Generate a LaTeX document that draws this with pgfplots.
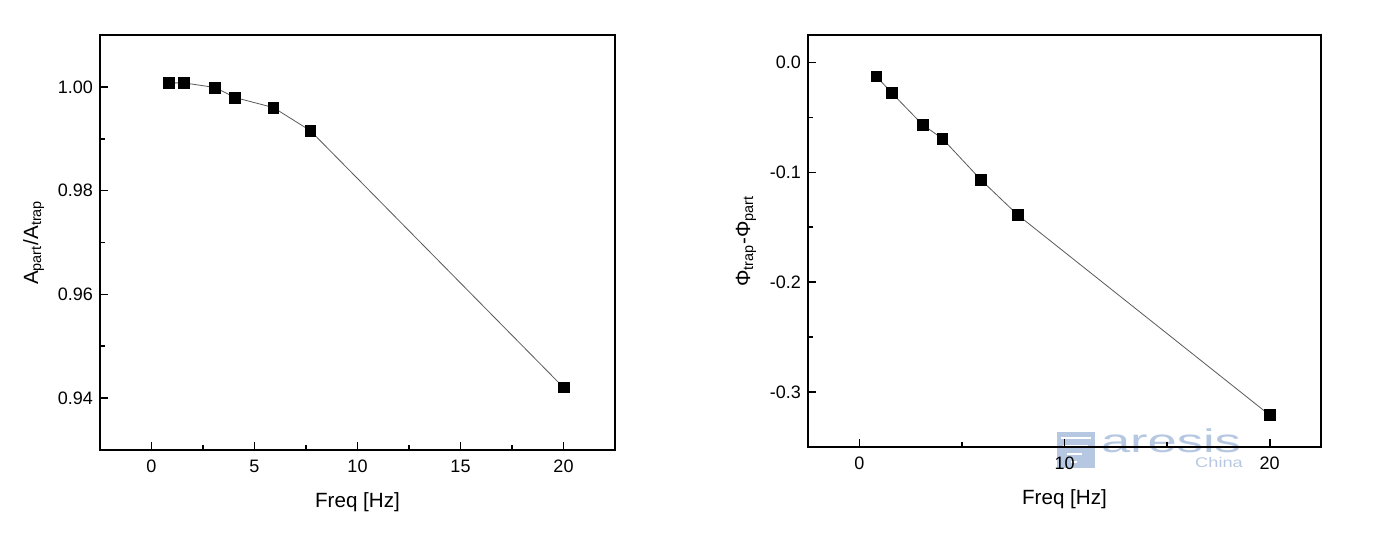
\documentclass[border=0pt]{standalone}
\usepackage{fontspec}
\setmainfont{Liberation Sans}
\usepackage{graphicx}
\usepackage{pgfplots}
\pgfplotsset{compat=1.18}
\definecolor{wm}{RGB}{182,200,225}
\begin{document}
\begin{tikzpicture}
% watermark (behind the axes)
\fill[wm] (528.5pt,36.5pt) rectangle (547.5pt,54.5pt);
\draw[white, line width=1.2pt] (530.5pt,51.5pt) -- (545.5pt,51.5pt);
\draw[white, line width=1.2pt] (531.5pt,47.5pt) -- (544pt,47.5pt);
\draw[white, line width=1.2pt] (533.5pt,43.5pt) -- (541pt,43.5pt);
\draw[white, line width=1.2pt] (535.5pt,39.5pt) -- (538.5pt,39.5pt);
\node[text=wm, font=\fontsize{16.4}{17}\selectfont, inner sep=0, anchor=base] at (585.5pt,44.5pt) {\scalebox{1.6}[1]{aresis}};
\node[text=wm, font=\fontsize{7}{8}\selectfont, inner sep=0, anchor=base] at (609.5pt,37pt) {\scalebox{1.3}[1]{China}};
\pgfplotsset{
  myax/.style={
    scale only axis,
    xmin=-2.5, xmax=22.5,
    tick align=inside,
    xtick pos=left, ytick pos=left,
    major tick length=4pt, minor tick length=2.5pt,
    every tick/.style={black, line width=0.8pt},
    axis line style={line width=1pt},
    tick label style={font=\fontsize{9}{10}\selectfont},
    xticklabel style={yshift=-1.5pt},
    /pgf/number format/assume math mode=true,
    xlabel={Freq [Hz]},
    label style={font=\fontsize{10.3}{12}\selectfont},
    xlabel style={yshift=-3pt},
    minor x tick num=1, minor y tick num=1,
    clip=false,
  },
  myplot/.style={gray!70!black, line width=0.4pt, mark=square*, mark size=2.7pt, mark options={black, fill=black, solid}},
}
\begin{axis}[myax, at={(50pt,45.5pt)}, anchor=south west, width=257.5pt, height=207.5pt,
  ymin=0.93, ymax=1.01,
  xtick={0,5,10,15,20},
  ytick={0.94,0.96,0.98,1.00},
  yticklabel style={/pgf/number format/.cd, fixed, fixed zerofill, precision=2},
  ylabel={A\textsubscript{part}/A\textsubscript{trap}},
]
\addplot[myplot] coordinates {(0.83,1.00077) (1.58,1.00077) (3.08,0.99988) (4.05,0.99795) (5.92,0.99601) (7.71,0.99156) (20,0.94205)};
\end{axis}
\begin{axis}[myax, at={(404pt,47pt)}, anchor=south west, width=256.5pt, height=206pt,
  ymin=-0.35, ymax=0.025,
  xtick={0,10,20},
  ytick={0,-0.1,-0.2,-0.3},
  yticklabel style={/pgf/number format/.cd, fixed, fixed zerofill, precision=1},
  ylabel={Φ\textsubscript{trap}-Φ\textsubscript{part}},
]
\addplot[myplot] coordinates {(0.83,-0.0127) (1.58,-0.0277) (3.08,-0.0566) (4.05,-0.0693) (5.92,-0.1067) (7.71,-0.1386) (20,-0.321)};
\end{axis}
\pgfresetboundingbox
\useasboundingbox (0pt,0pt) rectangle (690pt,270.5pt);
\end{tikzpicture}
\end{document}
